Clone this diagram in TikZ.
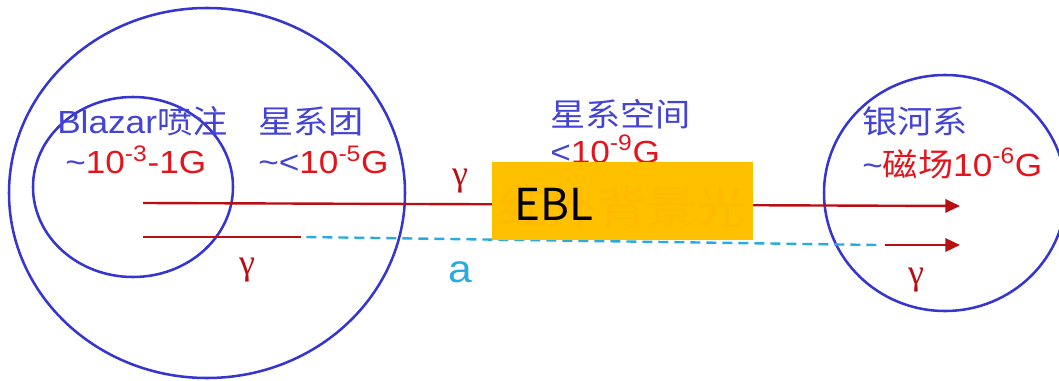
\documentclass[tikz,border=0pt]{standalone}
\usepackage{fontspec}
\setmainfont[FakeStretch=1.1]{Liberation Sans}
\newfontfamily\cjk[FakeStretch=1.1]{Noto Sans CJK SC}
\newfontfamily\eblfont{Noto Sans CJK SC}
\newfontfamily\greekfont{Liberation Serif}
\usepackage{xcolor}
\usepackage{tikz}
\usetikzlibrary{arrows.meta,positioning}
\definecolor{ringblue}{HTML}{3535CF}
\definecolor{tblue}{HTML}{4343D6}
\definecolor{tred}{HTML}{E3141C}
\definecolor{beamred}{HTML}{B80F14}
\definecolor{axcyan}{HTML}{2AAAE0}
\definecolor{eblorange}{HTML}{FFC000}
\tikzset{
  ring/.style={draw=ringblue,line width=1.9pt},
  beam/.style={draw=beamred,line width=1.8pt},
  beamarrow/.style={beam,-{Triangle[length=11pt,width=10pt]}},
  axion/.style={draw=axcyan,line width=1.8pt,dash pattern=on 7.5pt off 4.5pt},
  region/.style={anchor=base west,inner sep=0pt,text=tblue,font=\fontsize{24}{26}\selectfont},
  field/.style={anchor=base west,inner sep=0pt,text=tred,font=\fontsize{24}{26}\selectfont},
  glabel/.style={text=beamred,font=\greekfont\fontsize{27}{27}\selectfont}
}
\begin{document}
\begin{tikzpicture}[x=0.75pt,y=-0.75pt]
  \useasboundingbox (0,0) rectangle (1059,381);
  % source regions and the Milky Way
  \draw[ring] (207,193) ellipse [x radius=198, y radius=185];
  \draw[ring] (133,187) ellipse [x radius=100, y radius=90];
  \draw[ring] (945,193) ellipse [x radius=121, y radius=118];
  % region labels
  \node[region] (blazar) at (57,133) {Blazar{\cjk 喷注}};
  \node[field] (bblazar) at (65,174) {\textcolor{tblue}{\textasciitilde}10\textsuperscript{-3}-1G};
  \node[region] (cluster) at (258,133) {\cjk 星系团};
  \node[field] (bcluster) at (258,174) {\textcolor{tblue}{\textasciitilde<}10\textsuperscript{-5}G};
  \node[region] (igm) at (550,127) {\cjk 星系空间};
  \node[field] (bigm) at (550,163) {\textcolor{tblue}{<}10\textsuperscript{-9}G};
  \node[region] (galaxy) at (862,134) {\cjk 银河系};
  \node[field] (bgalaxy) at (862,176) {\textcolor{tblue}{\textasciitilde}{\cjk 磁场}10\textsuperscript{-6}G};
  % photon and axion paths
  \coordinate (gstart) at (143,203);
  \coordinate (gend) at (960,206);
  \coordinate (cstart) at (143,237);
  \coordinate (conv) at (301,237);
  \coordinate (aend) at (877,245);
  \coordinate (gback) at (885,245);
  \coordinate (gend2) at (960,245);
  \draw[beamarrow] (gstart) -- (gend);
  \draw[beam] (cstart) -- (conv);
  \draw[axion] ([xshift=4]conv) -- (aend);
  \draw[beamarrow] (gback) -- (gend2);
  \node[glabel] (g1) at (460,181) {γ};
  \node[glabel] (g2) at (247,270) {γ};
  \node[glabel] (g3) at (916,280) {γ};
  \node[text=axcyan,font=\fontsize{29}{29}\selectfont] (alp) at (460,272) {a};
  % EBL patch
  \fill[eblorange] (492,162) rectangle (753,240);
  \node[text=orange!80!red,opacity=0.06,font=\cjk\fontsize{34}{34}\selectfont] (eblcn) at (622,207) {红外背景光};
  \node[anchor=base west,inner sep=0pt,font=\eblfont\fontsize{33}{33}\selectfont] (ebl) at (514,220) {EBL};
\end{tikzpicture}
\end{document}
